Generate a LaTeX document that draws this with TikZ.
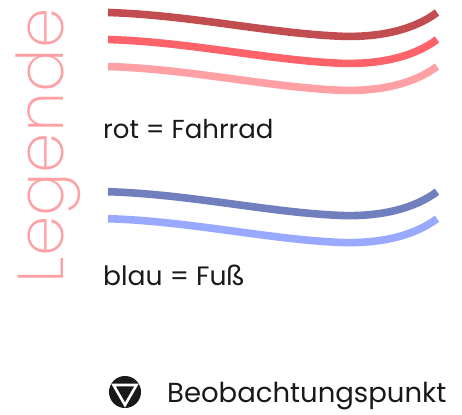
\documentclass[tikz,border=0pt]{standalone}
\usepackage{fontspec}
\setmainfont{Poppins}
\newfontfamily\lightfont[UprightFont=* ExtraLight]{Poppins}
\definecolor{rotA}{HTML}{C14D50}
\definecolor{rotB}{HTML}{FF636A}
\definecolor{rotC}{HTML}{FFA0A4}
\definecolor{blauA}{HTML}{727FBE}
\definecolor{blauB}{HTML}{98A9FF}
\tikzset{
  wave/.style={line width=7.6pt},
  label/.style={inner sep=0pt,anchor=base west,text=black!90,font=\fontsize{26}{29}\selectfont},
}
\begin{document}
\begin{tikzpicture}[x=1pt,y=-1pt]
\useasboundingbox (0,0) rectangle (462,414);
\draw[wave,rotA] (108,12.5) .. controls (190,15) and (270,33.5) .. (342,36.3) .. controls (382,37.5) and (415,29) .. (437,12.5);
\draw[wave,rotB] (108,39.5) .. controls (190,42) and (270,60.5) .. (342,63.3) .. controls (382,64.5) and (415,56) .. (437,39.5);
\draw[wave,rotC] (108,66.5) .. controls (190,69) and (270,87.5) .. (342,90.3) .. controls (382,91.5) and (415,83) .. (437,66.5);
\draw[wave,blauA] (108,191.7) .. controls (190,194.2) and (270,212.7) .. (342,215.5) .. controls (382,216.7) and (415,208.2) .. (437,191.7);
\draw[wave,blauB] (108,218.7) .. controls (190,221.2) and (270,239.7) .. (342,242.5) .. controls (382,243.7) and (415,235.2) .. (437,218.7);
\node[label] (rot) at (103,139) {rot = Fahrrad};
\node[label,font=\fontsize{26.6}{30}\selectfont] (blau) at (103,285.5) {blau = Fuß};
\node[label,font=\fontsize{27.5}{30}\selectfont] (beob) at (167,402) {Beobachtungspunkt};
\node[inner sep=0pt,anchor=base west,rotate=90,text=rotC,font=\lightfont\fontsize{64.6}{70}\selectfont] (leg) at (63,283.5) {Legende};
\fill[black!90] (125,392) circle[radius=16];
\draw[white,line width=2.6pt,line join=miter] (113.5,385) -- (136.5,385) -- (125,405) -- cycle;
\end{tikzpicture}
\end{document}
